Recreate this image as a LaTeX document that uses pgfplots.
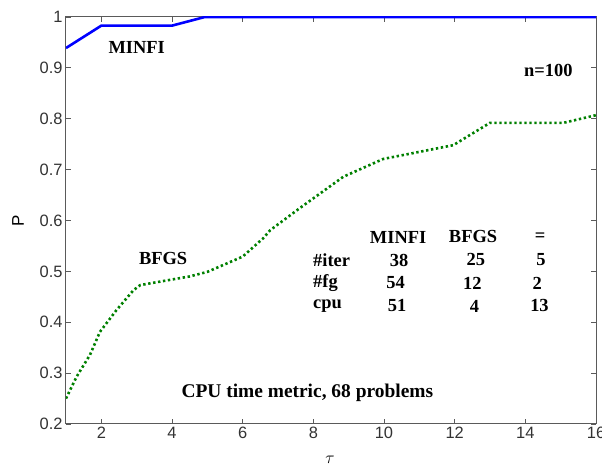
\documentclass[border=0pt]{standalone}
\usepackage{pgfplots}
\pgfplotsset{compat=1.18}
\usepackage{fontspec}
\setmainfont{Liberation Serif}
\newfontfamily\sansf{Liberation Sans}
\definecolor{mblue}{RGB}{0,0,255}
\definecolor{mgreen}{RGB}{0,128,0}
\definecolor{axgray}{RGB}{90,90,90}
\begin{document}
\begin{tikzpicture}
\begin{axis}[
  scale only axis, width=530bp, height=407bp,
  xmin=1, xmax=16, ymin=0.2, ymax=1,
  xtick={2,4,6,8,10,12,14,16},
  ytick={0.2,0.3,0.4,0.5,0.6,0.7,0.8,0.9,1},
  yticklabels={0.2,0.3,0.4,0.5,0.6,0.7,0.8,0.9,1},
  xticklabels={2,4,6,8,10,12,14,16},
  tick align=inside, major tick length=5bp,
  tick style={axgray, line width=0.8bp},
  axis line style={axgray, line width=1bp},
  ticklabel style={font=\sansf\fontsize{16.5}{16.5}\selectfont, text=black!80},
  /pgf/number format/assume math mode=true,
  xlabel={$\tau$}, ylabel={P},
  xlabel style={at={(axis description cs:0.498,-0.088)}, anchor=center, font=\fontsize{19}{19}\selectfont},
  ylabel style={at={(axis description cs:-0.0906,0.5)}, anchor=center, rotate=0, font=\sansf\fontsize{17}{17}\selectfont},
  clip=true,
]
\addplot[mblue, line width=2.6bp] coordinates {(1,0.939) (2,0.983) (4,0.983) (4.93,1) (16,1)};
\addplot[mgreen, line width=2.6bp, dash pattern=on 2.4bp off 2.6bp] coordinates {
(1,0.25) (1.30,0.293) (1.68,0.336) (1.96,0.381) (2.43,0.424) (2.91,0.463) (3.1,0.473)
(4,0.484) (4.5,0.49) (5,0.499) (6,0.529) (6.58,0.565) (6.78,0.581) (7.63,0.625)
(8.85,0.686) (9.98,0.721) (11.96,0.748) (13.0,0.792) (15.08,0.792) (16,0.807)};
\begin{scope}[every node/.style={font=\bfseries\fontsize{18.5}{18.5}\selectfont, inner sep=0pt}]
\node at (axis cs:3.0,0.941) {MINFI};
\node at (axis cs:3.75,0.526) {BFGS};
\node at (axis cs:14.65,0.895) {n=100};
\node[font=\bfseries\fontsize{19.5}{19.5}\selectfont] at (axis cs:7.83,0.261) {CPU time metric, 68 problems};
\node at (axis cs:10.40,0.5676) {MINFI};
\node at (axis cs:12.52,0.5676) {BFGS};
\node at (axis cs:14.42,0.5676) {=};
\node[anchor=west] at (axis cs:7.99,0.5224) {\#iter};
\node[anchor=west] at (axis cs:7.99,0.4772) {\#fg};
\node[anchor=west] at (axis cs:7.99,0.432) {cpu};
\node at (axis cs:10.43,0.5224) {38};
\node at (axis cs:12.60,0.5224) {25};
\node at (axis cs:14.44,0.5224) {5};
\node at (axis cs:10.33,0.4772) {54};
\node at (axis cs:12.50,0.4772) {12};
\node at (axis cs:14.34,0.4772) {2};
\node at (axis cs:10.37,0.432) {51};
\node at (axis cs:12.56,0.432) {4};
\node at (axis cs:14.40,0.432) {13};
\end{scope}
\end{axis}
\pgfresetboundingbox
\path ([xshift=-66bp,yshift=-42bp]current axis.south west) rectangle ([xshift=6bp,yshift=17bp]current axis.north east);
\end{tikzpicture}
\end{document}
